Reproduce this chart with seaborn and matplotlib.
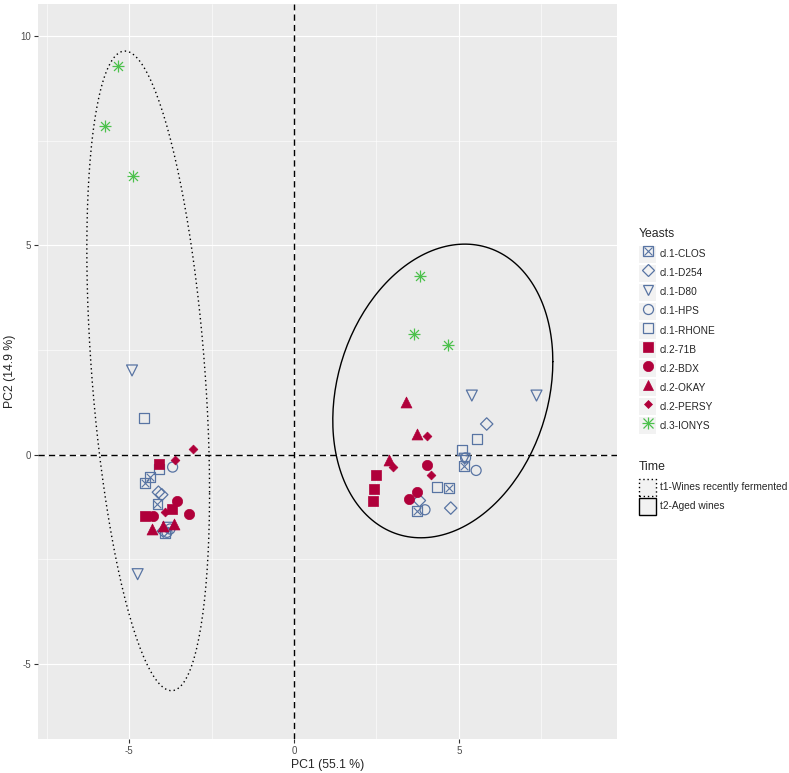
import numpy as np
import pandas as pd
import seaborn as sns
import matplotlib.pyplot as plt
from matplotlib.lines import Line2D
from matplotlib.patches import Patch

# ----------------------------------------
# Data
# ----------------------------------------
YEASTS = ['cl.1-CLOS', 'cl.1-D254', 'cl.1-D80', 'cl.1-HPS', 'cl.1-RHONE',
          'cl.2-71B', 'cl.2-BDX', 'cl.2-OKAY', 'cl.2-PERSY', 'cl.3-IONYS']

# t1 - wines recently fermented
T1_PC1 = [[-4.36, -4.52, -4.14], [-4.11, -4.01, -3.96], [-4.91, -4.74, -3.82],
          [-3.68, -3.76, -3.85], [-4.54, -4.08, -3.90], [-4.08, -3.71, -4.52],
          [-3.56, -4.26, -3.18], [-4.31, -3.98, -3.64], [-3.05, -3.61, -3.91],
          [-5.33, -5.73, -4.88]]
T1_PC2 = [[-0.53, -0.69, -1.18], [-0.90, -0.96, -1.83], [2.01, -2.86, -1.75],
          [-0.30, -1.78, -1.86], [0.88, -0.34, -1.88], [-0.22, -1.30, -1.46],
          [-1.10, -1.46, -1.42], [-1.78, -1.72, -1.66], [0.14, -0.13, -1.38],
          [9.28, 7.85, 6.67]]

# t2 - aged wines
T2_PC1 = [[5.15, 4.69, 3.72], [5.84, 3.80, 4.75], [5.39, 7.35, 5.17],
          [5.20, 5.52, 3.97], [5.54, 5.08, 4.34], [2.48, 2.42, 2.40],
          [4.04, 3.72, 3.49], [3.39, 3.72, 2.89], [4.02, 3.01, 4.14],
          [3.82, 3.64, 4.67]]
T2_PC2 = [[-0.28, -0.80, -1.34], [0.73, -1.10, -1.28], [1.41, 1.41, -0.10],
          [-0.08, -0.38, -1.32], [0.37, 0.11, -0.78], [-0.50, -0.82, -1.12],
          [-0.24, -0.90, -1.06], [1.25, 0.49, -0.14], [0.45, -0.29, -0.49],
          [4.26, 2.87, 2.63]]

TIMES = ['t1-Wines recently fermented', 't2-Aged wines']

# ellipse summaries per time (centre, half extents, correlation)
ELL_PC1 = [-4.42, 4.51]
ELL_PC2 = [2.00, 1.52]
ELL_HALF_PC1 = [1.86, 3.335]
ELL_HALF_PC2 = [7.645, 3.51]
ELL_CORR = [-0.38, 0.20]

# ----------------------------------------
# Styling per yeast (ggplot shapes)
# ----------------------------------------
BLUE = '#5874A3'
RED = '#B0003A'
GREEN = '#4CC14C'
STYLE = {
    'cl.1-CLOS':  dict(marker='s', color=BLUE, filled=False, s=50, cross=True),
    'cl.1-D254':  dict(marker='D', color=BLUE, filled=False, s=40),
    'cl.1-D80':   dict(marker='v', color=BLUE, filled=False, s=62),
    'cl.1-HPS':   dict(marker='o', color=BLUE, filled=False, s=52),
    'cl.1-RHONE': dict(marker='s', color=BLUE, filled=False, s=50),
    'cl.2-71B':   dict(marker='s', color=RED, filled=True, s=45),
    'cl.2-BDX':   dict(marker='o', color=RED, filled=True, s=55),
    'cl.2-OKAY':  dict(marker='^', color=RED, filled=True, s=62),
    'cl.2-PERSY': dict(marker='D', color=RED, filled=True, s=20),
    'cl.3-IONYS': dict(marker='+', color=GREEN, filled=False, s=75, star=True),
}

rows = []
for i, y in enumerate(YEASTS):
    for t, (xs, ys) in enumerate([(T1_PC1[i], T1_PC2[i]), (T2_PC1[i], T2_PC2[i])]):
        for a, b in zip(xs, ys):
            rows.append({'yeast': y, 'time': TIMES[t], 'PC1': a, 'PC2': b})
df = pd.DataFrame(rows)

# ----------------------------------------
# Plot
# ----------------------------------------
sns.set_theme(style='darkgrid')
plt.rcParams['font.family'] = ['Liberation Sans', 'DejaVu Sans']
plt.rcParams['axes.unicode_minus'] = False

fig = plt.figure(figsize=(7.89, 7.73), dpi=100)
ax = fig.add_axes([38 / 789, 1 - 739 / 773, (617 - 38) / 789, (739 - 4) / 773])
ax.set_facecolor('#EBEBEB')

ax.axhline(0, color='black', lw=1.0, ls=(0, (4.5, 3)), zorder=2)
ax.axvline(0, color='black', lw=1.0, ls=(0, (4.5, 3)), zorder=2)

# ellipses
tt = np.linspace(0, 2 * np.pi, 200)
for k, time in enumerate(TIMES):
    r = ELL_CORR[k]
    ex = ELL_PC1[k] + ELL_HALF_PC1[k] * np.cos(tt)
    ey = ELL_PC2[k] + ELL_HALF_PC2[k] * (r * np.cos(tt) + np.sqrt(1 - r ** 2) * np.sin(tt))
    ls = (0, (1, 2.2)) if k == 0 else '-'
    ax.plot(ex, ey, color='black', lw=1.0, ls=ls, zorder=3)

for y in YEASTS:
    st = STYLE[y]
    sub = df[df['yeast'] == y]
    if st.get('star'):
        sns.scatterplot(data=sub, x='PC1', y='PC2', marker='+', s=st['s'], color=st['color'],
                        edgecolor=st['color'], linewidth=0.9, legend=False, ax=ax, zorder=4)
        sns.scatterplot(data=sub, x='PC1', y='PC2', marker='x', s=st['s'] * 0.55, color=st['color'],
                        edgecolor=st['color'], linewidth=0.9, legend=False, ax=ax, zorder=4)
        continue
    if st['filled']:
        sns.scatterplot(data=sub, x='PC1', y='PC2', marker=st['marker'], s=st['s'],
                        color=st['color'], edgecolor=st['color'], linewidth=0.5,
                        legend=False, ax=ax, zorder=4)
    else:
        sns.scatterplot(data=sub, x='PC1', y='PC2', marker=st['marker'], s=st['s'],
                        color=st['color'], facecolor='none', edgecolor=st['color'],
                        linewidth=0.9, legend=False, ax=ax, zorder=4)
    if st.get('cross'):
        sns.scatterplot(data=sub, x='PC1', y='PC2', marker='x', s=st['s'] * 0.6,
                        color=st['color'], edgecolor=st['color'], linewidth=0.8,
                        legend=False, ax=ax, zorder=4)

ax.set_xlim(-7.76, 9.79)
ax.set_ylim(-6.8, 10.77)
ax.set_xticks([-5, 0, 5])
ax.set_yticks([-5, 0, 5, 10])
ax.set_xticks([-7.5, -2.5, 2.5, 7.5], minor=True)
ax.set_yticks([-2.5, 2.5, 7.5], minor=True)
ax.grid(which='major', color='white', lw=0.85)
ax.grid(which='minor', color='white', lw=0.4)
ax.set_axisbelow(True)
for sp in ax.spines.values():
    sp.set_visible(False)
ax.tick_params(which='major', length=3, width=0.8, color='#333333', labelsize=7,
               labelcolor='#4D4D4D', pad=2, bottom=True, left=True)
ax.tick_params(which='minor', length=0)
ax.set_xlabel('PC1 (55.1 %)', fontsize=8.8, labelpad=2)
ax.set_ylabel('PC2 (14.9 %)', fontsize=8.8, labelpad=3)

# ----------------------------------------
# Legends
# ----------------------------------------
KEY_BG = '#F2F2F2'
yeast_handles = []
for y in YEASTS:
    st = STYLE[y]
    bg = Patch(facecolor=KEY_BG, edgecolor='none')
    ms = np.sqrt(st['s'])
    if st.get('star'):
        h = (bg, Line2D([], [], ls='none', marker='+', ms=ms, mew=0.9, color=st['color']),
             Line2D([], [], ls='none', marker='x', ms=ms * 0.75, mew=0.9, color=st['color']))
    else:
        fc = st['color'] if st['filled'] else 'none'
        mk = Line2D([], [], ls='none', marker=st['marker'], ms=ms, mfc=fc,
                    mec=st['color'], mew=0.9 if not st['filled'] else 0.5)
        h = (bg, mk)
        if st.get('cross'):
            h = h + (Line2D([], [], ls='none', marker='x', ms=ms * 0.75, mew=0.8, color=st['color']),)
    yeast_handles.append(h)

leg_kw = dict(loc='upper left', frameon=False, fontsize=7.3, title_fontsize=8.8,
              handlelength=1.68, handleheight=2.25, handletextpad=0.35,
              labelspacing=0.17, borderpad=0, borderaxespad=0, alignment='left')

leg1 = fig.legend(yeast_handles, YEASTS, title='Yeasts',
                  bbox_to_anchor=(639 / 789, 1 - 228 / 773), **leg_kw)
leg1._legend_box.sep = 4

time_handles = [Patch(facecolor=KEY_BG, edgecolor='black', ls=(0, (1, 2)), lw=1.0),
                Patch(facecolor=KEY_BG, edgecolor='black', ls='-', lw=1.0)]
leg2 = fig.legend(time_handles, TIMES, title='Time',
                  bbox_to_anchor=(639 / 789, 1 - 461 / 773), **leg_kw)
leg2._legend_box.sep = 4

fig.savefig('out.png', dpi=100)
